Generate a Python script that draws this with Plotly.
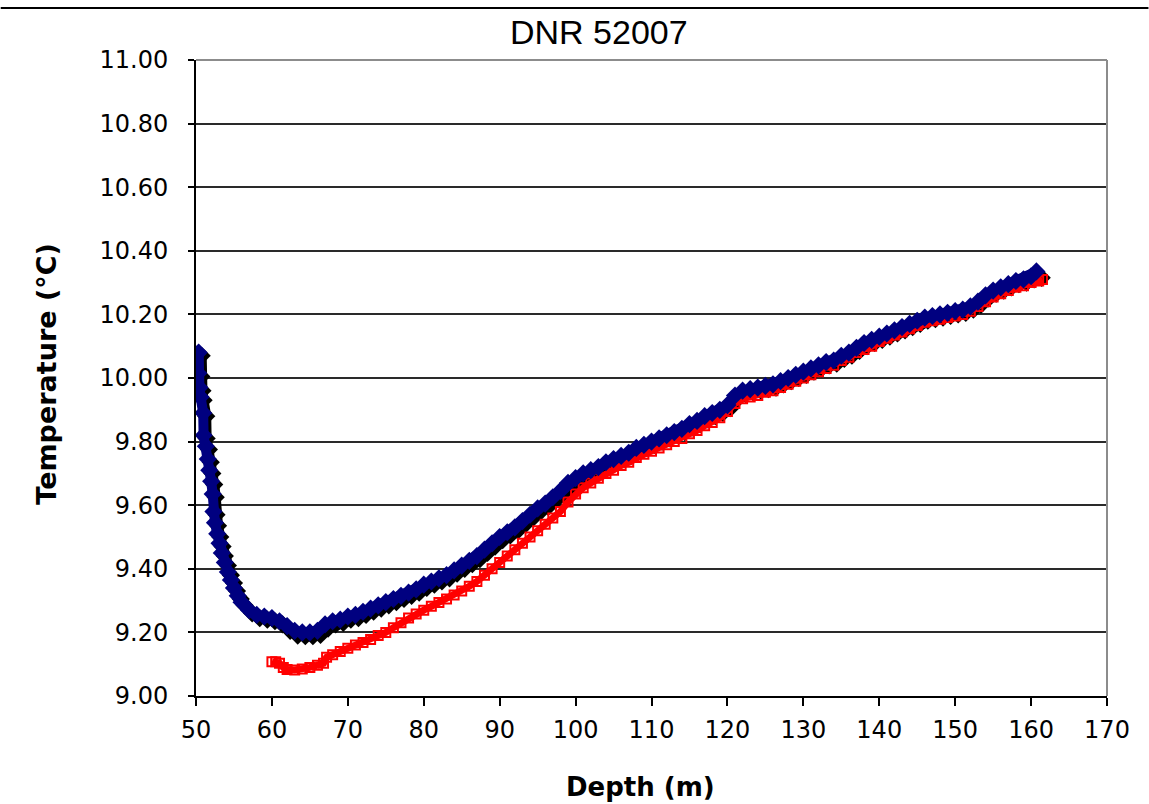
import plotly.graph_objects as go

# ---------------- data ----------------
blue_depth = [50.35, 50.3, 50.45, 50.6, 50.95, 51.0, 51.3, 51.55, 51.75, 52.0, 52.2, 52.3, 52.5,
              52.8, 53.1, 53.4, 53.8, 54.2, 54.6, 55.0, 55.5, 56, 57, 58, 59, 60, 61, 62, 63, 64,
              65, 66, 67, 68, 69, 70, 71, 72, 73, 74, 75, 76, 77, 78, 79, 80, 81, 82, 83, 84, 85,
              86, 87, 88, 89, 90, 91, 92, 93, 94, 95, 96, 97, 98, 99, 100, 101, 102, 103, 104,
              105, 106, 107, 108, 109, 110, 111, 112, 113, 114, 115, 116, 117, 118, 119, 120,
              121, 122, 123, 124, 125, 126, 127, 128, 129, 130, 131, 132, 133, 134, 135, 136,
              137, 138, 139, 140, 141, 142, 143, 144, 145, 146, 147, 148, 149, 150, 151, 152,
              153, 154, 155, 156, 157, 158, 159, 160, 160.7]
blue_temp = [10.08, 10.015, 9.97, 9.94, 9.89, 9.82, 9.785, 9.745, 9.71, 9.675, 9.635, 9.58, 9.545,
             9.51, 9.48, 9.45, 9.42, 9.39, 9.365, 9.34, 9.315, 9.295, 9.27, 9.255, 9.25, 9.245,
             9.235, 9.22, 9.205, 9.2, 9.2, 9.205, 9.225, 9.235, 9.24, 9.25, 9.255, 9.265, 9.275,
             9.285, 9.295, 9.305, 9.315, 9.325, 9.335, 9.35, 9.36, 9.37, 9.38, 9.395, 9.41,
             9.425, 9.44, 9.46, 9.48, 9.50, 9.515, 9.53, 9.55, 9.57, 9.59, 9.605, 9.625, 9.645,
             9.67, 9.685, 9.70, 9.71, 9.72, 9.735, 9.745, 9.755, 9.765, 9.78, 9.79, 9.80, 9.81,
             9.82, 9.83, 9.84, 9.855, 9.865, 9.88, 9.89, 9.90, 9.915, 9.945, 9.96, 9.965, 9.97,
             9.975, 9.98, 9.99, 10.0, 10.01, 10.02, 10.03, 10.04, 10.05, 10.055, 10.07, 10.08,
             10.095, 10.11, 10.12, 10.13, 10.14, 10.15, 10.16, 10.17, 10.18, 10.19, 10.195,
             10.20, 10.205, 10.21, 10.215, 10.225, 10.24, 10.26, 10.275, 10.285, 10.295,
             10.305, 10.31, 10.32, 10.335]

black_depth = [50.75, 50.7, 50.85, 51.0, 51.35, 51.4, 51.7, 51.95, 52.15, 52.4, 52.6, 52.7, 52.9,
               53.2, 53.5, 53.8, 54.2, 54.6, 55.0, 55.4, 55.9, 56.4, 57.4, 58.4, 59.4, 60.4,
               61.4, 62.4, 63.4, 64.4, 65.4, 66.4, 67.4, 68.4, 69.4, 70.4, 71.4, 72.4, 73.4,
               74.4, 75.4, 76.4, 77.4, 78.4, 79.4, 80.4, 81.4, 82.4, 83.4, 84.4, 85.4, 86.4,
               87.4, 88.4, 89.4, 90.4, 91.4, 92.4, 93.4, 94.4, 95.4, 96.4, 97.4, 98.4, 99.4,
               100.4, 101.4, 102.4, 103.4, 104.4, 105.4, 106.4, 107.4, 108.4, 109.4, 110.4,
               111.4, 112.4, 113.4, 114.4, 115.4, 116.4, 117.4, 118.4, 119.4, 120.4, 121.4,
               122.4, 123.4, 124.4, 125.4, 126.4, 127.4, 128.4, 129.4, 130.4, 131.4, 132.4,
               133.4, 134.4, 135.4, 136.4, 137.4, 138.4, 139.4, 140.4, 141.4, 142.4, 143.4,
               144.4, 145.4, 146.4, 147.4, 148.4, 149.4, 150.4, 151.4, 152.4, 153.4, 154.4,
               155.4, 156.4, 157.4, 158.4, 159.4, 160.4, 161.4, 162.0]
black_temp = [10.07, 10.005, 9.96, 9.93, 9.88, 9.81, 9.775, 9.735, 9.70, 9.665, 9.625, 9.57, 9.535,
              9.50, 9.47, 9.44, 9.41, 9.38, 9.355, 9.33, 9.305, 9.285, 9.26, 9.245, 9.24, 9.235,
              9.225, 9.205, 9.19, 9.188, 9.188, 9.192, 9.212, 9.225, 9.23, 9.24, 9.245, 9.255,
              9.265, 9.275, 9.285, 9.295, 9.305, 9.315, 9.325, 9.34, 9.35, 9.36, 9.37, 9.385,
              9.40, 9.415, 9.43, 9.45, 9.47, 9.49, 9.505, 9.52, 9.54, 9.56, 9.58, 9.595, 9.615,
              9.635, 9.66, 9.675, 9.69, 9.70, 9.71, 9.725, 9.735, 9.745, 9.755, 9.77, 9.78,
              9.79, 9.80, 9.81, 9.82, 9.83, 9.845, 9.855, 9.87, 9.88, 9.89, 9.905, 9.935, 9.95,
              9.955, 9.96, 9.965, 9.97, 9.98, 9.99, 10.0, 10.01, 10.02, 10.03, 10.04, 10.045,
              10.06, 10.07, 10.085, 10.10, 10.11, 10.12, 10.13, 10.14, 10.15, 10.16, 10.17,
              10.18, 10.185, 10.19, 10.195, 10.20, 10.205, 10.215, 10.23, 10.25, 10.265,
              10.275, 10.285, 10.295, 10.30, 10.31, 10.315]

red_depth = [60.0, 60.5, 61.0, 61.5, 62, 63, 64, 65, 66, 66.8, 67.2, 68, 69, 70, 71, 72, 73, 74,
             75, 76, 77, 78, 79, 80, 81, 82, 83, 84, 85, 86, 87, 88, 89, 90, 91, 92, 93, 94, 95,
             96, 97, 98, 99, 100, 101, 102, 103, 104, 105, 106, 107, 108, 109, 110, 111, 112,
             113, 114, 115, 116, 117, 118, 119, 120, 121, 122, 123, 124, 125, 126, 127, 128,
             129, 130, 131, 132, 133, 134, 135, 136, 137, 138, 139, 140, 141, 142, 143, 144,
             145, 146, 147, 148, 149, 150, 151, 152, 153, 154, 155, 156, 157, 158, 159, 160,
             161, 161.5]
red_temp = [9.108, 9.108, 9.103, 9.09, 9.083, 9.082, 9.085, 9.09, 9.097, 9.103, 9.122, 9.13,
            9.14, 9.15, 9.16, 9.168, 9.178, 9.19, 9.20, 9.215, 9.23, 9.245, 9.258, 9.27, 9.282,
            9.294, 9.305, 9.318, 9.33, 9.345, 9.36, 9.38, 9.40, 9.42, 9.44, 9.46, 9.48, 9.50,
            9.52, 9.54, 9.56, 9.58, 9.61, 9.635, 9.655, 9.67, 9.685, 9.70, 9.71, 9.725, 9.735,
            9.75, 9.76, 9.77, 9.78, 9.79, 9.80, 9.81, 9.825, 9.835, 9.85, 9.86, 9.875, 9.895,
            9.92, 9.935, 9.94, 9.945, 9.955, 9.96, 9.97, 9.98, 9.99, 10.0, 10.01, 10.02, 10.03,
            10.04, 10.055, 10.065, 10.08, 10.09, 10.10, 10.115, 10.125, 10.135, 10.145, 10.155,
            10.165, 10.175, 10.18, 10.185, 10.19, 10.195, 10.20, 10.21, 10.225, 10.24, 10.255,
            10.265, 10.275, 10.285, 10.29, 10.30, 10.305, 10.31]

x_ticks = [50, 60, 70, 80, 90, 100, 110, 120, 130, 140, 150, 160, 170]
y_ticks = [9.0, 9.2, 9.4, 9.6, 9.8, 10.0, 10.2, 10.4, 10.6, 10.8, 11.0]

TITLE = "DNR 52007"
X_TITLE = "Depth (m)"
Y_TITLE = "Temperature (°C)"

# ---------------- figure ----------------
W, H = 1149, 804
L, R, T, B = 195.5, 41.5, 60, 108
PW, PH = W - L - R, H - T - B

fig = go.Figure()
fig.add_trace(go.Scatter(x=black_depth, y=black_temp, mode="lines+markers", name="black",
                         line=dict(color="#000000", width=10),
                         marker=dict(symbol="diamond", size=14, color="#000000",
                                     line=dict(width=0))))
fig.add_trace(go.Scatter(x=red_depth, y=red_temp, mode="lines+markers", name="red",
                         line=dict(color="#ff0000", width=7),
                         marker=dict(symbol="square-open", size=9, color="#ff0000",
                                     line=dict(width=2, color="#ff0000"))))
fig.add_trace(go.Scatter(x=blue_depth, y=blue_temp, mode="lines+markers", name="blue",
                         line=dict(color="#000080", width=10),
                         marker=dict(symbol="diamond", size=14, color="#000080",
                                     line=dict(width=0))))

tickfont = dict(family="DejaVu Sans", size=24, color="#000000")

fig.update_layout(
    width=W, height=H,
    margin=dict(l=L, r=R, t=T, b=B, pad=0),
    paper_bgcolor="white", plot_bgcolor="white",
    showlegend=False,
    xaxis=dict(range=[50, 170], tickvals=x_ticks, ticktext=[str(v) for v in x_ticks],
               showgrid=False, zeroline=False, showline=True, linecolor="#000000",
               linewidth=2, ticks="outside", ticklen=8, tickwidth=2, tickcolor="#000000",
               tickfont=tickfont, ticklabelstandoff=3),
    yaxis=dict(range=[9.0, 11.0], tickvals=y_ticks, ticktext=[f"{v:.2f}" for v in y_ticks],
               showgrid=True, gridcolor="#2a2a2a", gridwidth=1.5, zeroline=False,
               showline=True, linecolor="#000000", linewidth=2, ticks="outside", ticklen=6,
               tickwidth=2, tickcolor="#000000", tickfont=tickfont, ticklabelstandoff=15),
    annotations=[
        dict(text=TITLE, xref="paper", yref="paper", x=(599 - L) / PW, y=(H - B - 32) / PH,
             showarrow=False, xanchor="center", yanchor="middle",
             font=dict(family="Liberation Sans", size=34, color="#000000")),
        dict(text="<b>" + X_TITLE + "</b>", xref="paper", yref="paper",
             x=(640 - L) / PW, y=(H - B - 787) / PH, showarrow=False,
             xanchor="center", yanchor="middle",
             font=dict(family="DejaVu Sans", size=26, color="#000000")),
        dict(text="<b>" + Y_TITLE + "</b>", xref="paper", yref="paper",
             x=(45 - L) / PW, y=(H - B - 374) / PH, showarrow=False, textangle=-90,
             xanchor="center", yanchor="middle",
             font=dict(family="DejaVu Sans", size=27, color="#000000")),
    ],
    shapes=[
        # page rule above the chart
        dict(type="line", xref="paper", yref="paper", x0=-L / PW, x1=(W - L) / PW,
             y0=(H - B - 8) / PH, y1=(H - B - 8) / PH, line=dict(color="#000000", width=2)),
        # gray plot-area border (top & right)
        dict(type="line", xref="paper", yref="paper", x0=0, x1=1, y0=1, y1=1,
             line=dict(color="#8c8c8c", width=2)),
        dict(type="line", xref="paper", yref="paper", x0=1, x1=1, y0=0, y1=1,
             line=dict(color="#8c8c8c", width=2)),
    ],
)

fig.write_html("out.html")
